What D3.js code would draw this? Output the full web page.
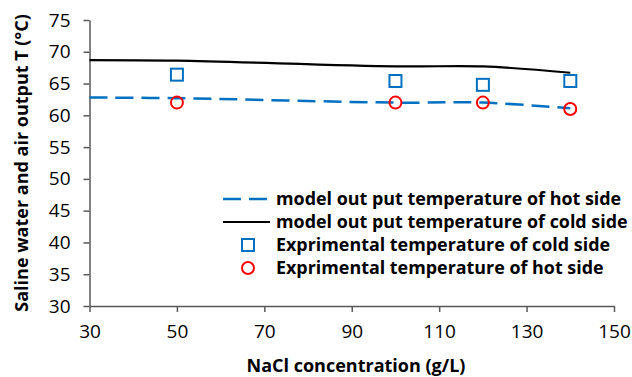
<!DOCTYPE html>
<html><head><meta charset="utf-8">
<script src="https://cdn.jsdelivr.net/npm/d3@7"></script>
<style>body{margin:0;background:#fff}svg{display:block}</style>
</head><body>
<svg id="c" width="632" height="377"></svg>
<script>
const modelX = [30, 50, 100, 120, 140];
const modelHot = [62.8, 62.7, 62.0, 62.0, 61.1];
const modelCold = [68.7, 68.6, 67.7, 67.7, 66.7];
const expX = [50, 100, 120, 140];
const expCold = [66.4, 65.4, 64.8, 65.4];
const expHot = [62.0, 62.0, 62.0, 61.0];
const xTicks = [30, 50, 70, 90, 110, 130, 150];
const yTicks = [30, 35, 40, 45, 50, 55, 60, 65, 70, 75];
const legendLabels = ["model out put temperature of hot side","model out put temperature of cold side","Exprimental temperature of cold side","Exprimental temperature of hot side"];

const svg = d3.select("#c");
const font = "'Open Sans', sans-serif";
const x = d3.scaleLinear().domain([30,150]).range([89.5,614]);
const y = d3.scaleLinear().domain([30,75]).range([306,20]);

const xa = svg.append("g").attr("transform","translate(0,306)")
  .call(d3.axisBottom(x).tickValues(xTicks).tickSize(6).tickSizeOuter(0).tickPadding(13));
const ya = svg.append("g").attr("transform","translate(89.5,0)")
  .call(d3.axisLeft(y).tickValues(yTicks).tickSize(6).tickSizeOuter(0).tickPadding(13));
[xa,ya].forEach(a=>{
  a.selectAll("path,line").attr("stroke","#595959").attr("stroke-width",1.5);
  a.selectAll("text").attr("font-family",font).attr("font-size",19).attr("fill","#000");
});

const line = d3.line().x((d,i)=>x(modelX[i])).y(d=>y(d)).curve(d3.curveCatmullRom);
svg.append("path").attr("d",line(modelCold)).attr("fill","none").attr("stroke","#000").attr("stroke-width",2.2);
svg.append("path").attr("d",line(modelHot)).attr("fill","none").attr("stroke","#0070C0").attr("stroke-width",2.5).attr("stroke-dasharray","18,8");

svg.selectAll(".sq").data(expCold).enter().append("rect")
  .attr("x",(d,i)=>x(expX[i])-6).attr("y",d=>y(d)-6).attr("width",12).attr("height",12)
  .attr("fill","none").attr("stroke","#0070C0").attr("stroke-width",2);
svg.selectAll(".ci").data(expHot).enter().append("circle")
  .attr("cx",(d,i)=>x(expX[i])).attr("cy",d=>y(d)).attr("r",6)
  .attr("fill","none").attr("stroke","#FF0000").attr("stroke-width",2);

const rows = [199, 222, 245, 268];
const lg = svg.append("g");
lg.append("line").attr("x1",223).attr("x2",270).attr("y1",rows[0]).attr("y2",rows[0]).attr("stroke","#0070C0").attr("stroke-width",2.5).attr("stroke-dasharray","18,8");
lg.append("line").attr("x1",223).attr("x2",270).attr("y1",rows[1]).attr("y2",rows[1]).attr("stroke","#000").attr("stroke-width",2.2);
lg.append("rect").attr("x",242).attr("y",rows[2]-6).attr("width",12).attr("height",12).attr("fill","none").attr("stroke","#0070C0").attr("stroke-width",2);
lg.append("circle").attr("cx",248).attr("cy",rows[3]).attr("r",6).attr("fill","none").attr("stroke","#FF0000").attr("stroke-width",2);
legendLabels.forEach((t,i)=>{
  lg.append("text").attr("x",276).attr("y",rows[i]).attr("dy","0.35em")
    .attr("font-family",font).attr("font-weight","bold").attr("font-size",17.9).text(t);
});

svg.append("text").attr("x",356).attr("y",366).attr("dy","0.35em").attr("text-anchor","middle")
  .attr("font-family",font).attr("font-weight","bold").attr("font-size",18).text("NaCl concentration (g/L)");
svg.append("text").attr("transform","translate(22,163) rotate(-90)").attr("text-anchor","middle").attr("dy","0.35em")
  .attr("font-family",font).attr("font-weight","bold").attr("font-size",18).text("Saline water and air output T (°C)");
</script>
</body></html>
